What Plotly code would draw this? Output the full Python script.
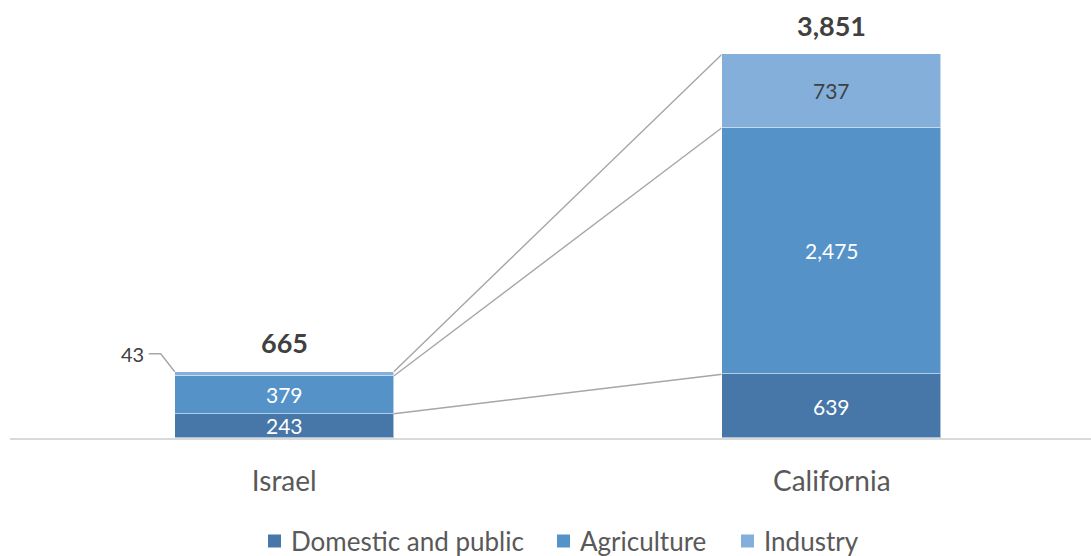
import plotly.graph_objects as go

# Water consumption by sector (million m3)
regions = ["Israel", "California"]
domestic = [243, 639]
agriculture = [379, 2475]
industry = [43, 737]

series_names = ["Domestic and public", "Agriculture", "Industry"]
series_values = [domestic, agriculture, industry]
series_colors = ["#4677a8", "#5592c8", "#84afdb"]
label_colors = ["#ffffff", "#ffffff", "#404040"]

FONT = "Lato"
x_pos = [0, 1]
bar_w = 0.4

fig = go.Figure()
for name, vals, col in zip(series_names, series_values, series_colors):
    fig.add_trace(go.Bar(
        x=x_pos, y=vals, name=name, width=bar_w, showlegend=False,
        marker=dict(color=col, line=dict(color="rgba(255,255,255,0.55)", width=1)),
        hoverinfo="skip",
    ))

annotations = []
shapes = []

# cumulative tops per region
cum = [[0, 0]]
for vals in series_values:
    cum.append([cum[-1][i] + vals[i] for i in range(2)])

# segment value labels (small Israel industry segment gets a callout instead)
for s, vals in enumerate(series_values):
    for i in range(2):
        if s == 2 and i == 0:
            continue
        mid = cum[s][i] + vals[i] / 2
        annotations.append(dict(
            x=x_pos[i], y=mid, text=f"{vals[i]:,}", showarrow=False,
            font=dict(family=FONT, size=21, color=label_colors[s]),
            xanchor="center", yanchor="middle",
        ))

# totals above bars
for i in range(2):
    total = cum[-1][i]
    annotations.append(dict(
        x=x_pos[i], y=total, text=f"<b>{total:,}</b>", showarrow=False,
        font=dict(family=FONT, size=27, color="#404040"),
        xanchor="center", yanchor="middle", yshift=29,
    ))

# series lines joining segment tops
for s in range(1, 4):
    shapes.append(dict(
        type="line", xref="x", yref="y",
        x0=x_pos[0] + bar_w / 2, y0=cum[s][0],
        x1=x_pos[1] - bar_w / 2, y1=cum[s][1],
        line=dict(color="#a6a6a6", width=1.4), layer="below",
    ))

# callout for the Israel industry value
left_edge = x_pos[0] - bar_w / 2
shapes.append(dict(
    type="path", xref="x", yref="y",
    xsizemode="pixel", ysizemode="pixel",
    xanchor=left_edge, yanchor=cum[3][0],
    path="M 0 0 L -14 18 L -26 18",
    line=dict(color="#a6a6a6", width=1.4),
))
annotations.append(dict(
    x=left_edge, y=cum[3][0], text=f"{industry[0]:,}", showarrow=False,
    font=dict(family=FONT, size=20, color="#404040"),
    xanchor="right", yanchor="middle", xshift=-29, yshift=18,
))

# legend row below the chart: colour square + series name
W, H = 1091, 556
legend_left = [268, 557, 741]
legend_cy = 541
sq = 13
for name, col, lx in zip(series_names, series_colors, legend_left):
    shapes.append(dict(
        type="rect", xref="paper", yref="paper",
        xsizemode="pixel", ysizemode="pixel",
        xanchor=(lx - 10) / (W - 10), yanchor=(438 - legend_cy) / 438,
        x0=0, x1=sq, y0=-sq / 2, y1=sq / 2,
        fillcolor=col, line=dict(width=0),
    ))
    annotations.append(dict(
        xref="paper", yref="paper",
        x=(lx - 10) / (W - 10), y=(438 - legend_cy) / 438,
        xshift=sq + 8, text=name, showarrow=False,
        xanchor="left", yanchor="middle",
        font=dict(family=FONT, size=26, color="#595959"),
    ))

fig.update_layout(
    width=W, height=H,
    margin=dict(l=10, r=0, t=0, b=118, autoexpand=False),
    barmode="stack", bargap=0,
    plot_bgcolor="white", paper_bgcolor="white",
    showlegend=False,
    xaxis=dict(
        range=[-0.5009, 1.4735], tickmode="array", tickvals=x_pos, ticktext=regions,
        showgrid=False, zeroline=False, showline=True, linecolor="#d9d9d9", linewidth=1.5,
        tickfont=dict(family=FONT, size=28, color="#595959"), ticks="",
        ticklabelstandoff=18, automargin=False,
    ),
    yaxis=dict(range=[0, 4393], visible=False, showgrid=False, zeroline=False,
               automargin=False),
    annotations=annotations, shapes=shapes,
)

fig.write_html("out.html")
